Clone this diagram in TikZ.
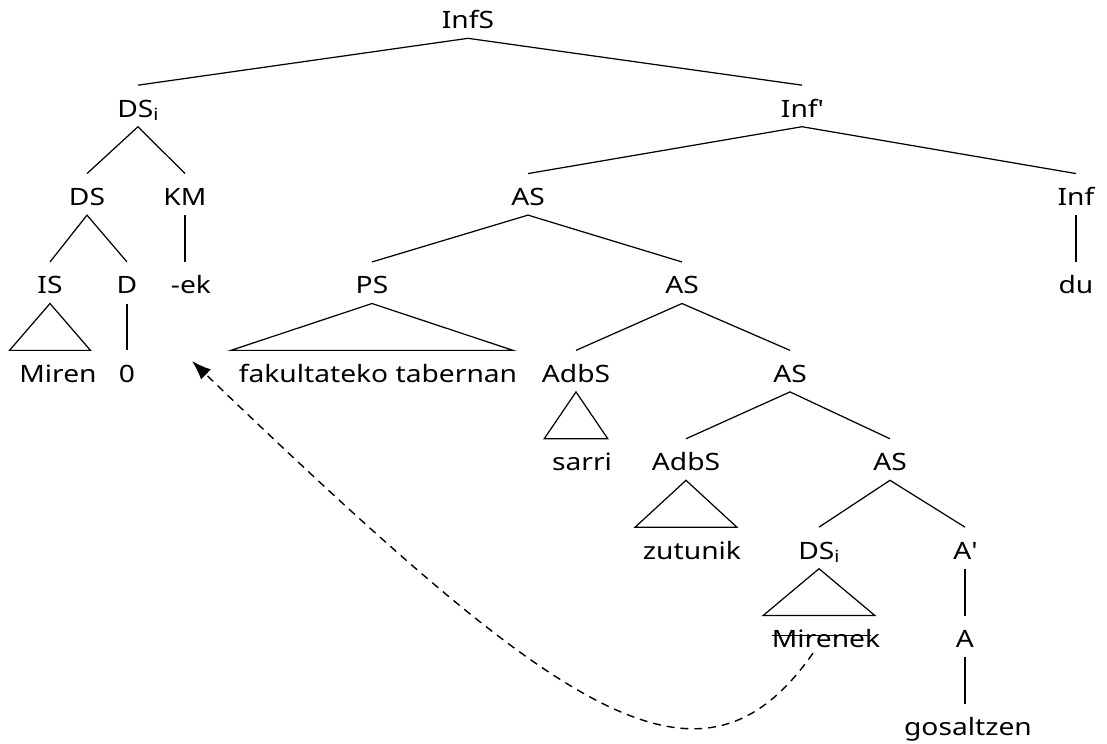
\documentclass[tikz,border=0pt]{standalone}
\usepackage{fontspec}
\setmainfont{Noto Sans}[FakeStretch=1.18]
\usetikzlibrary{calc}
\usetikzlibrary{arrows,arrows.meta}
\tikzset{>={Latex[length=11pt,width=8pt]}}
\tikzset{
  cat/.style={anchor=base,inner xsep=0.85pt,inner ysep=2.27pt,
              text height=15.65pt,text depth=3.06pt},
  branch/.style={line width=0.7pt},
  trace/.style={->,line width=0.8pt,dash pattern=on 4.5pt off 3.4pt},
}
% roof: triangle from the mother node down to the width of the words
\newcommand\roof[2]{
  \draw[branch] let \p1=(#2.west), \p2=(#2.east), \p3=(#1.south), \p4=(#2.north) in
    (#1.south) -- ({\x3-0.5*\x2+0.5*\x1},\y4) -- ({\x3+0.5*\x2-0.5*\x1},\y4) -- cycle;
}

\begin{document}
\begin{tikzpicture}[x=0.02cm,y=-0.02cm,font=\fontsize{13.6pt}{16pt}\selectfont]
  \useasboundingbox (0,0) rectangle (1107,744);
  \def\ya{28.6}  % baselines of the rows
  \def\yb{117}
  \def\yc{205.4}
  \def\yd{293.8}
  \def\ye{382.2}
  \def\yf{470.6}
  \def\yg{559}
  \def\yh{647.4}
  \def\yi{735.8}

  % labels
  \node[cat] (InfS)  at (468,\ya) {InfS};
  \node[cat] (DSi)   at (138,\yb) {DS$_{\mathrm{i}}$};
  \node[cat] (Infb)  at (802,\yb) {Inf\textquotesingle};
  \node[cat] (DS)    at (87,\yc)  {DS};
  \node[cat] (KM)    at (185,\yc) {KM};
  \node[cat] (AS1)   at (528,\yc) {AS};
  \node[cat] (Inf)   at (1076,\yc) {Inf};
  \node[cat] (IS)    at (50,\yd)  {IS};
  \node[cat] (D)     at (127,\yd) {D};
  \node[cat] (ek)    at (191,\yd) {-ek};
  \node[cat] (PS)    at (372,\yd) {PS};
  \node[cat] (AS2)   at (682,\yd) {AS};
  \node[cat] (du)    at (1076,\yd) {du};
  \node[cat] (Miren) at (58,\ye)  {Miren};
  \node[cat] (zero)  at (127,\ye) {0};
  \node[cat] (fak)   at (378,\ye) {fakultateko tabernan};
  \node[cat] (AdbS1) at (576,\ye) {AdbS};
  \node[cat] (AS3)   at (790,\ye) {AS};
  \node[cat] (sarri) at (582,\yf) {sarri};
  \node[cat] (AdbS2) at (686,\yf) {AdbS};
  \node[cat] (AS4)   at (890,\yf) {AS};
  \node[cat] (zutunik) at (692,\yg) {zutunik};
  \node[cat] (DSj)   at (819,\yg) {DS$_{\mathrm{i}}$};
  \node[cat] (Ab)    at (965,\yg) {A\textquotesingle};
  \node[cat] (Mirenek) at (826,\yh) {Mirenek};
  \node[cat] (A)     at (965,\yh) {A};
  \node[cat] (gos)   at (968,\yi) {gosaltzen};

  % branches
  \draw[branch] (DSi.north) -- (InfS.south) -- (Infb.north);
  \draw[branch] (DS.north) -- (DSi.south) -- (KM.north);
  \draw[branch] (IS.north) -- (DS.south) -- (D.north);
  \draw[branch] (KM.south) -- (KM |- ek.north);
  \draw[branch] (D.south) -- (D |- zero.north);
  \draw[branch] (AS1.north) -- (Infb.south) -- (Inf.north);
  \draw[branch] (Inf.south) -- (Inf |- du.north);
  \draw[branch] (PS.north) -- (AS1.south) -- (AS2.north);
  \draw[branch] (AdbS1.north) -- (AS2.south) -- (AS3.north);
  \draw[branch] (AdbS2.north) -- (AS3.south) -- (AS4.north);
  \draw[branch] (DSj.north) -- (AS4.south) -- (Ab.north);
  \draw[branch] (Ab.south) -- (Ab |- A.north);
  \draw[branch] (A.south) -- (A |- gos.north);
  \roof{IS}{Miren}
  \roof{PS}{fak}
  \roof{AdbS1}{sarri}
  \roof{AdbS2}{zutunik}
  \roof{DSj}{Mirenek}

  % deleted copy and its movement
  \draw[line width=0.7pt] ($(Mirenek.west)+(2,-1)$) -- ($(Mirenek.east)+(-11,-1)$);
  \coordinate (start) at ($(Mirenek.south)+(-13,-4)$);
  \coordinate (landing) at (192,361);
  \draw[trace] (start) .. controls (700,815) and (560,715) .. (landing);
\end{tikzpicture}
\end{document}
